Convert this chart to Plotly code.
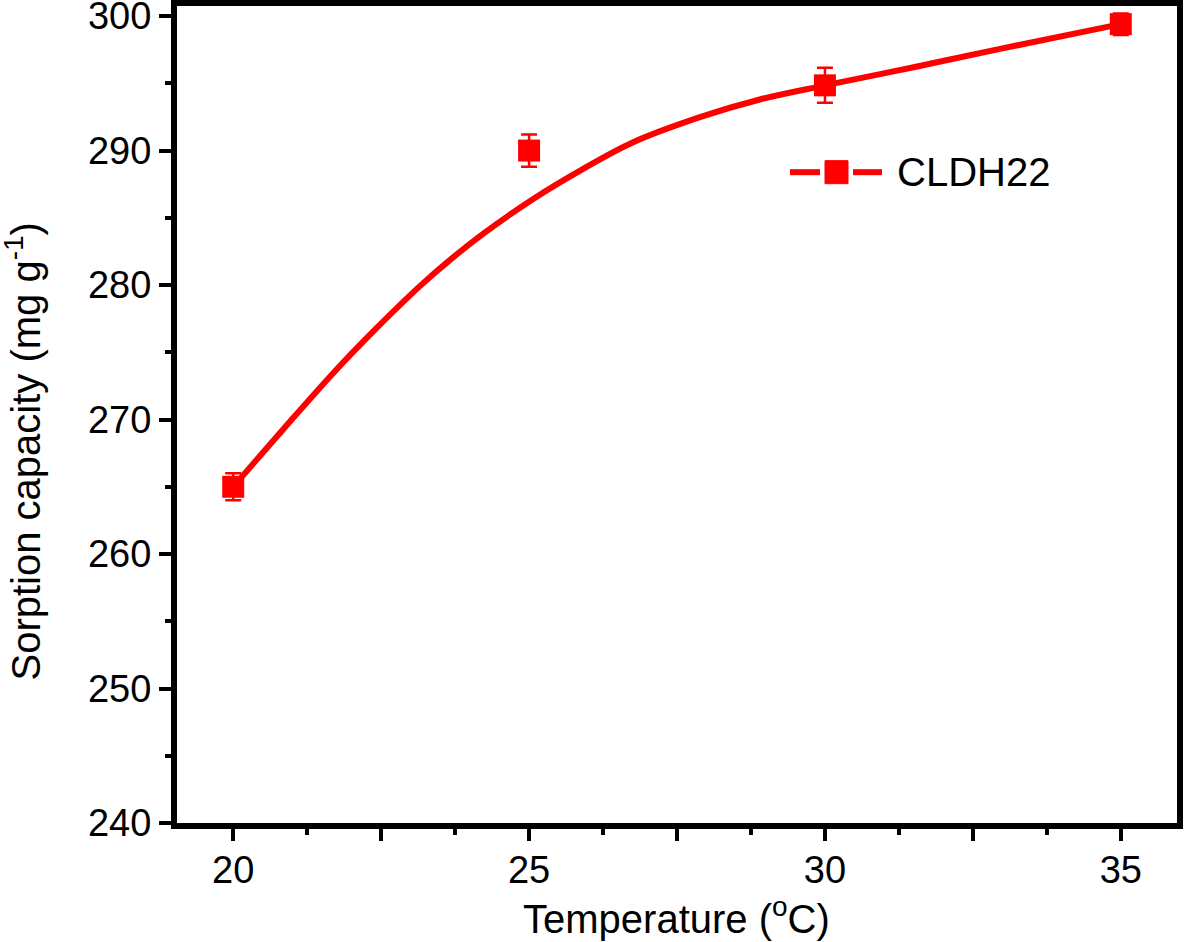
import plotly.graph_objects as go

# Measured data (temperature in °C, sorption capacity in mg/g)
temperature = [20, 25, 30, 35]
capacity = [265.0, 290.0, 294.85, 299.4]
capacity_err = [1.0, 1.2, 1.3, 0.8]

# Fitted curve
curve_x = [20.0, 20.85, 21.7, 22.4, 23.15, 23.7, 24.25, 25.07, 25.9, 26.75, 27.9, 28.9, 30.0, 31.5, 33.0, 35.0]
curve_y = [265.0, 269.3, 273.5, 276.7, 279.9, 282.0, 283.9, 286.4, 288.6, 290.6, 292.5, 293.8, 294.85, 296.2, 297.6, 299.4]

x_tickvals = [20, 22.5, 25, 27.5, 30, 32.5, 35]
x_ticktext = ["20", "", "25", "", "30", "", "35"]
y_tickvals = [240, 250, 260, 270, 280, 290, 300]

series_name = "CLDH22"

RED = "#ff0000"
FONT = "Liberation Sans, Arial, sans-serif"

fig = go.Figure()
fig.add_trace(go.Scatter(
    x=curve_x, y=curve_y, mode="lines",
    line=dict(color=RED, width=6, shape="spline", smoothing=1.0),
    showlegend=False, hoverinfo="skip"))
fig.add_trace(go.Scatter(
    x=temperature, y=capacity, mode="markers", name=series_name,
    marker=dict(symbol="square", size=22, color=RED),
    error_y=dict(type="data", array=capacity_err, color=RED, thickness=2.5, width=8),
    showlegend=False))

axis_common = dict(
    showline=True, linecolor="black", linewidth=6, mirror=True,
    ticks="outside", tickcolor="black", tickwidth=4, ticklen=12,
    showgrid=False, zeroline=False, automargin=False,
    ticklabeloverflow="allow",
    tickfont=dict(family=FONT, size=38, color="black"),
)

fig.update_xaxes(
    range=[19.05, 35.95], tickvals=x_tickvals, ticktext=x_ticktext,
    ticklabelstandoff=-4,
    minor=dict(ticks="outside", tickvals=[21.25, 23.75, 26.25, 28.75, 31.25, 33.75], ticklen=6, tickwidth=4, tickcolor="black"),
    **axis_common)
fig.update_yaxes(
    range=[240, 300.75], tickvals=y_tickvals,
    minor=dict(ticks="outside", tickvals=[245, 255, 265, 275, 285, 295], ticklen=6, tickwidth=4, tickcolor="black"),
    **axis_common)

fig.add_annotation(
    text="Sorption capacity (mg g<sup>-1</sup>)", textangle=-90,
    xref="paper", yref="paper", x=-0.154, y=0.4547, showarrow=False,
    xanchor="center", yanchor="middle",
    font=dict(family=FONT, size=40, color="black"))
fig.add_annotation(
    text="Temperature (<sup>o</sup>C)",
    xref="paper", yref="paper", x=0.499, y=-0.114, showarrow=False,
    xanchor="center", yanchor="middle",
    font=dict(family=FONT, size=40, color="black"))

# Legend drawn as a wide Origin-style sample
leg_y = 0.7966
fig.add_shape(type="line", xref="paper", yref="paper", x0=0.613, x1=0.643, y0=leg_y, y1=leg_y,
              line=dict(color=RED, width=6))
fig.add_shape(type="line", xref="paper", yref="paper", x0=0.676, x1=0.705, y0=leg_y, y1=leg_y,
              line=dict(color=RED, width=6))
fig.add_shape(type="rect", xref="paper", yref="paper", x0=0.648, x1=0.671, y0=0.7825, y1=0.8107,
              line=dict(color=RED, width=1), fillcolor=RED)
fig.add_annotation(
    text=series_name, xref="paper", yref="paper", x=0.718, y=leg_y, showarrow=False,
    xanchor="left", yanchor="middle",
    font=dict(family=FONT, size=40, color="black"))

fig.update_layout(
    width=1184, height=942,
    margin=dict(l=177, r=7, t=6, b=119, autoexpand=False),
    paper_bgcolor="white", plot_bgcolor="white",
    showlegend=False,
)

fig.write_html("out.html", config={"displayModeBar": False},
               post_script="document.body.style.margin='0px';")
